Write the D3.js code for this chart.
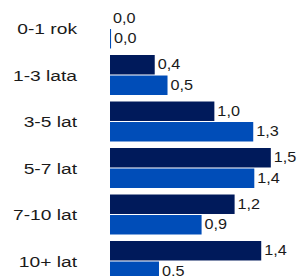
<!DOCTYPE html>
<html>
<head>
<meta charset="utf-8">
<script src="https://cdn.jsdelivr.net/npm/d3@7"></script>
<style>
  body { margin: 0; background: #fff; }
  svg { display: block; }
</style>
</head>
<body>
<svg id="chart" width="298" height="276"></svg>
<script>
const categories = ['0-1 rok', '1-3 lata', '3-5 lat', '5-7 lat', '7-10 lat', '10+ lat'];
const seriesDark = [0, 0.42, 0.98, 1.51, 1.17, 1.42];
const seriesLight = [0.01, 0.54, 1.345, 1.355, 0.86, 0.46];
const seriesColors = ['#001a5b', '#004db8'];

const svg = d3.select('#chart');
const fmt = v => d3.format('.1f')(v).replace('.', ',');

const x = d3.scaleLinear().domain([0, 1.6]).range([110, 280.4]);
const y = d3.scaleBand()
  .domain(categories)
  .range([5.25, 284.25])
  .paddingInner(0.14)
  .paddingOuter(0.07);
const inner = d3.scaleBand()
  .domain([0, 1])
  .range([0, y.bandwidth()])
  .paddingInner(0.05);

const rows = categories.map((c, i) => ({ cat: c, values: [seriesDark[i], seriesLight[i]] }));

const group = svg.selectAll('g.row')
  .data(rows)
  .enter().append('g')
  .attr('class', 'row')
  .attr('transform', d => `translate(0 ${y(d.cat)})`);

// bars
group.selectAll('rect')
  .data(d => d.values.map((v, k) => ({ v, k })))
  .enter().append('rect')
  .attr('x', x(0))
  .attr('y', d => inner(d.k))
  .attr('width', d => x(d.v) - x(0))
  .attr('height', inner.bandwidth())
  .attr('fill', d => seriesColors[d.k]);

// value labels (text a bit wide in the original)
group.selectAll('text.value')
  .data(d => d.values.map((v, k) => ({ v, k })))
  .enter().append('text')
  .attr('class', 'value')
  .attr('transform', d => `translate(${x(d.v) + 3} ${inner(d.k) + inner.bandwidth() / 2 + 4.6}) scale(1.08 1)`)
  .attr('font-family', 'Liberation Sans, Arial, sans-serif')
  .attr('font-size', 15)
  .attr('fill', '#1a1a1a')
  .text(d => fmt(d.v));

// category labels
group.append('text')
  .attr('transform', `translate(77 ${y.bandwidth() / 2 + 5.8}) scale(1.24 1)`)
  .attr('text-anchor', 'end')
  .attr('font-family', 'Liberation Sans, Arial, sans-serif')
  .attr('font-size', 15.5)
  .attr('fill', '#1a1a1a')
  .text(d => d.cat);
</script>
</body>
</html>
